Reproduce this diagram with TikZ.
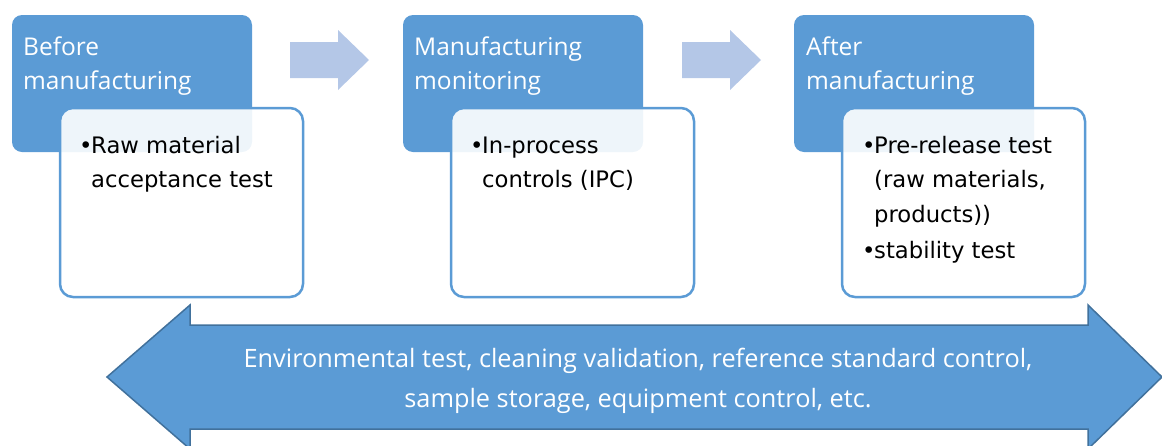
\documentclass[tikz,border=0pt]{standalone}
\usepackage{fontspec}
\newfontfamily\headfont{Open Sans}
\newfontfamily\bodyfont{DejaVu Sans}
\definecolor{stageblue}{HTML}{5B9BD5}
\definecolor{stageedge}{HTML}{41719C}
\definecolor{flowblue}{HTML}{B4C7E7}
\tikzset{
  stagebox/.style={fill=stageblue, rounded corners=10pt},
  itembox/.style={draw=stageblue, line width=2.5pt, fill=white, fill opacity=0.9, draw opacity=1, rounded corners=13pt},
  headtext/.style={anchor=base west, inner sep=0pt, text=white, font=\headfont\fontsize{24.5}{28}\selectfont},
  itemtext/.style={anchor=base west, inner sep=0pt, text=black, font=\bodyfont\fontsize{22.7}{28}\selectfont},
  bandtext/.style={anchor=base, inner sep=0pt, text=white, font=\headfont\fontsize{25.3}{28}\selectfont},
  flowarrow/.style={fill=flowblue},
  bandarrow/.style={fill=stageblue, draw=stageedge, line width=1.5pt, line join=miter},
}
\begin{document}
\begin{tikzpicture}[x=1pt, y=-1pt]
  \useasboundingbox (0,0) rectangle (1162,445);

  % process stages: heading box with an overlapping item card
  \foreach \dx in {0,391,782} {
    \fill[stagebox] (12+\dx,15) rectangle (252+\dx,152);
    \draw[itembox] (60+\dx,108) rectangle (303+\dx,297);
  }

  % stage 1
  \node[headtext] (h1a) at (23,55) {Before};
  \node[headtext] (h1b) at (23,89) {manufacturing};
  \node[itemtext] (b1) at (79,153) {•};
  \node[itemtext] (i1a) at (91,153) {Raw material};
  \node[itemtext] (i1b) at (91,187) {acceptance test};

  % stage 2
  \node[headtext] (h2a) at (414,55) {Manufacturing};
  \node[headtext] (h2b) at (414,89) {monitoring};
  \node[itemtext] (b2) at (470,153) {•};
  \node[itemtext] (i2a) at (482,153) {In-process};
  \node[itemtext] (i2b) at (482,187) {controls (IPC)};

  % stage 3
  \node[headtext] (h3a) at (806,55) {After};
  \node[headtext] (h3b) at (806,89) {manufacturing};
  \node[itemtext] (b3) at (862,153) {•};
  \node[itemtext] (i3a) at (874,153) {Pre-release test};
  \node[itemtext] (i3b) at (874,187) {(raw materials,};
  \node[itemtext] (i3c) at (874,222) {products))};
  \node[itemtext] (b4) at (862,258) {•};
  \node[itemtext] (i3d) at (874,258) {stability test};

  % flow arrows between stages
  \foreach \dx in {0,392} {
    \fill[flowarrow] (290+\dx,42) -- (338+\dx,42) -- (338+\dx,30) -- (369+\dx,60)
      -- (338+\dx,90) -- (338+\dx,78) -- (290+\dx,78) -- cycle;
  }

  % band of activities spanning all stages
  \draw[bandarrow] (107,377) -- (190,305) -- (190,325) -- (1088,325) -- (1088,305)
    -- (1162,377) -- (1088,449) -- (1088,429) -- (190,429) -- (190,449) -- cycle;
  \node[bandtext] (t1) at (638,367) {Environmental test, cleaning validation, reference standard control,};
  \node[bandtext] (t2) at (638,407) {sample storage, equipment control, etc.};
\end{tikzpicture}
\end{document}
